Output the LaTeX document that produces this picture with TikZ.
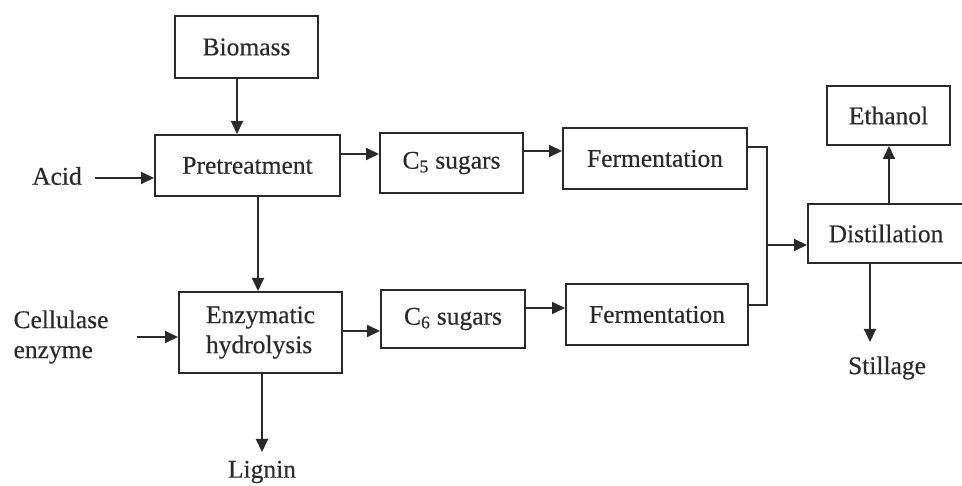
\documentclass[tikz,border=0pt]{standalone}
\usepackage{fontspec}
\setmainfont[FakeBold=0.3]{Liberation Serif}
\usetikzlibrary{arrows.meta}
\definecolor{ink}{HTML}{2A2A2A}
\tikzset{
  ln/.style={draw=ink, line width=1.9pt},
  arr/.style={ln, -{Triangle[length=13pt,width=12pt]}},
  box/.style={draw=ink, line width=2pt, inner sep=0pt, text=ink,
              font=\fontsize{25.5}{30}\selectfont},
  lbl/.style={inner sep=0pt, text=ink, font=\fontsize{25.5}{30}\selectfont},
}
\begin{document}
\begin{tikzpicture}[x=1pt, y=-1pt]
\clip (0,0) rectangle (962,486);
\fill[white] (0,0) rectangle (962,486);

% process boxes, top row
\node[box, minimum width=143pt, minimum height=62pt] (bio) at (246.5,47) {Biomass};
\node[box, minimum width=185pt, minimum height=61pt] (pre) at (247.5,165.5) {Pretreatment};
\node[box, minimum width=143pt, minimum height=60pt] (c5) at (451.5,163) {C\textsubscript{5} sugars};
\node[box, minimum width=184pt, minimum height=61pt] (f1) at (655,158.5) {Fermentation};
\node[box, minimum width=123pt, minimum height=59pt] (eth) at (888.5,115.5) {Ethanol};
% the distillation box runs past the right edge of the page
\node[box, minimum width=172pt, minimum height=59pt] (dist) at (894,233.5) {Distillation\kern16pt};

% process boxes, bottom row
\node[box, minimum width=163pt, minimum height=81pt, align=left] (enz) at (260.5,332.5) {Enzymatic\\hydrolysis};
\node[box, minimum width=144pt, minimum height=58pt] (c6) at (453,319) {C\textsubscript{6} sugars};
\node[box, minimum width=182pt, minimum height=61pt] (f2) at (657,314.5) {Fermentation};

% inputs and outputs
\node[lbl] (acid) at (57,176) {Acid};
\node[lbl, align=left] (cell) at (61,337) {Cellulase\\enzyme};
\node[lbl] (lig) at (262,472) {Lignin};
\node[lbl] (still) at (887,368) {Stillage};

\coordinate (acidout) at (95,178);
\coordinate (cellout) at (137,337);
\coordinate (j) at (767,245);
\coordinate (ligin) at (262,452);
\coordinate (stin) at (870,342);

% connectors
\draw[arr] (bio.south -| 237,0) -- (pre.north -| 237,0);
\draw[arr] (acidout) -- (pre.west |- acidout);
\draw[arr] (pre.east |- 0,154) -- (c5.west |- 0,154);
\draw[arr] (c5.east |- 0,151) -- (f1.west |- 0,151);
\draw[arr] (pre.south -| 258,0) -- (enz.north -| 258,0);
\draw[arr] (cellout) -- (enz.west |- cellout);
\draw[arr] (enz.east |- 0,331) -- (c6.west |- 0,331);
\draw[arr] (c6.east |- 0,308) -- (f2.west |- 0,308);
\draw[arr] (enz.south -| ligin) -- (ligin);
\draw[ln] (f1.east |- 0,147) -| (j);
\draw[ln] (f2.east |- 0,305) -| (j);
\draw[arr] (j) -- (dist.west |- j);
\draw[arr] (dist.north -| 889,0) -- (eth.south -| 889,0);
\draw[arr] (dist.south -| stin) -- (stin);
\end{tikzpicture}
\end{document}
